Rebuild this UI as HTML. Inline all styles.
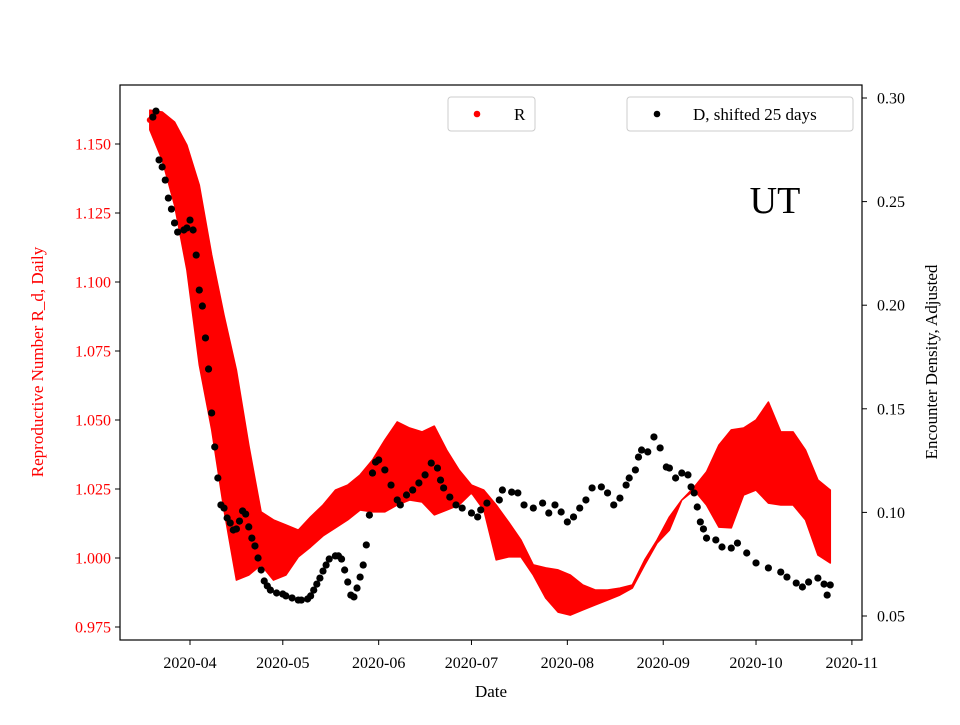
<!DOCTYPE html>
<html><head><meta charset="utf-8"><style>
body{margin:0;background:#fff}
svg{font-family:"Liberation Serif",serif}
</style></head><body>
<svg id="chart" width="960" height="720" viewBox="0 0 960 720">
<rect width="960" height="720" fill="#fff"/>
<g id="rband"></g>
<g id="dpts"></g>
<rect x="120" y="85" width="742" height="555" fill="none" stroke="#000" stroke-width="1.2"/>
<g id="xaxis"></g>
<g id="yleft"></g>
<g id="yright"></g>
<text x="491" y="697" font-size="17" text-anchor="middle">Date</text>
<text transform="translate(43,362) rotate(-90)" font-size="17" fill="#f00" text-anchor="middle">Reproductive Number R_d, Daily</text>
<text transform="translate(937,362) rotate(-90)" font-size="17" text-anchor="middle">Encounter Density, Adjusted</text>
<text x="775" y="213" font-size="38" text-anchor="middle">UT</text>
<g>
<rect x="448" y="97" width="87" height="34" rx="3" fill="#fff" stroke="#ccc"/>
<circle cx="477" cy="114" r="3.3" fill="#f00"/>
<text x="514" y="120" font-size="17">R</text>
</g>
<g>
<rect x="627" y="97" width="226" height="34" rx="3" fill="#fff" stroke="#ccc"/>
<circle cx="657" cy="114" r="3.3" fill="#000"/>
<text x="693" y="120" font-size="17">D, shifted 25 days</text>
</g>
</svg>
<script>
// days since 2020-03-01
const rDays=[18,22,26,30,34,38,42,46,50,54,58,62,66,70,74,78,82,86,90,94,98,102,106,110,114,118,122,126,130,134,138,142,146,150,154,158,162,166,170,174,178,182,186,190,194,198,202,206,210,214,218,222,226,230,234,238];
const rHi=[1.1623,1.1616,1.158,1.1496,1.1351,1.1098,1.088,1.0681,1.0409,1.0167,1.0138,1.012,1.0101,1.0149,1.0192,1.0246,1.0264,1.0301,1.0355,1.0428,1.0493,1.0471,1.0457,1.0478,1.0391,1.0319,1.0264,1.0246,1.0192,1.013,1.0065,0.9975,0.9964,0.9957,0.9938,0.9902,0.9884,0.9884,0.9891,0.9902,0.9993,1.0065,1.0149,1.021,1.0257,1.0312,1.0409,1.0464,1.0471,1.05,1.0565,1.0457,1.0457,1.0391,1.0283,1.0246];
const rLo=[1.1551,1.1442,1.1279,1.1043,1.0699,1.0464,1.0174,0.992,0.9938,0.9975,0.992,0.9938,1.0004,1.004,1.008,1.0109,1.0138,1.0174,1.0167,1.0167,1.0192,1.021,1.0203,1.0156,1.0174,1.0192,1.0236,1.0174,0.9993,1.0004,1.0004,0.9938,0.9855,0.9804,0.9793,0.9812,0.983,0.9848,0.9866,0.9891,0.9975,1.0054,1.0101,1.021,1.0246,1.0192,1.0112,1.0109,1.0228,1.0246,1.0199,1.0192,1.0192,1.0138,1.0011,0.9982];
const dDays=[19,20,21,22,23,24,25,26,27,29,30,31,32,33,34,35,36,37,38,39,40,41,42,43,44,45,46,47,48,49,50,51,52,53,54,55,56,57,59,61,62,64,66,67,69,70,71,72,73,74,75,76,78,79,80,81,82,83,84,85,86,87,88,89,90,91,92,94,96,98,99,101,103,105,107,109,111,112,113,115,117,119,122,124,125,127,131,132,135,137,139,142,145,147,149,151,153,155,157,159,161,164,166,168,170,172,173,175,176,177,179,181,183,185,186,188,190,192,193,194,195,196,197,198,201,203,206,208,211,214,218,222,224,227,229,231,234,236,237,238];
const dVals=[0.2908,0.2937,0.2701,0.2667,0.2604,0.2517,0.2464,0.2397,0.2353,0.2363,0.2373,0.2411,0.2363,0.2242,0.2073,0.1996,0.1842,0.1692,0.148,0.1316,0.1166,0.1036,0.1021,0.0973,0.0949,0.0915,0.092,0.0958,0.1007,0.0992,0.093,0.0876,0.0838,0.078,0.0722,0.0669,0.0645,0.0625,0.0611,0.0606,0.0597,0.0587,0.0577,0.0577,0.0582,0.0597,0.0625,0.0654,0.0683,0.0717,0.0746,0.0775,0.079,0.079,0.0775,0.0722,0.0664,0.0601,0.0592,0.0635,0.0688,0.0746,0.0843,0.0987,0.119,0.1243,0.1253,0.1205,0.1132,0.106,0.1036,0.1084,0.1108,0.1142,0.1181,0.1238,0.1214,0.1156,0.1118,0.1074,0.1036,0.1021,0.0997,0.0978,0.1012,0.1045,0.106,0.1108,0.1098,0.1094,0.1036,0.1021,0.1045,0.0997,0.1036,0.1002,0.0954,0.0978,0.1021,0.106,0.1118,0.1123,0.1094,0.1036,0.1069,0.1132,0.1166,0.1205,0.1267,0.1301,0.1292,0.1364,0.1311,0.1219,0.1214,0.1166,0.119,0.1181,0.1123,0.1094,0.1026,0.0954,0.092,0.0876,0.0867,0.0833,0.0828,0.0852,0.0804,0.0756,0.0732,0.0712,0.0688,0.0659,0.064,0.0664,0.0683,0.0654,0.0601,0.065];
const xTickDays=[31,61,92,122,153,184,214,245];
const xTickLabels=["2020-04","2020-05","2020-06","2020-07","2020-08","2020-09","2020-10","2020-11"];
const yLeftTicks=[0.975,1.0,1.025,1.05,1.075,1.1,1.125,1.15];
const yRightTicks=[0.05,0.10,0.15,0.20,0.25,0.30];

const NS="http://www.w3.org/2000/svg";
const xS=d=>190+(d-31)*3.093;
const yL=v=>558-(v-1)*2760;
const yR=v=>616-(v-0.05)*2072;
function mk(tag,attrs,parent){const e=document.createElementNS(NS,tag);for(const k in attrs)e.setAttribute(k,attrs[k]);parent.appendChild(e);return e;}
const rb=document.getElementById('rband');
let pts=[];
rDays.forEach((d,i)=>pts.push(xS(d).toFixed(1)+','+yL(rHi[i]).toFixed(1)));
for(let i=rDays.length-1;i>=0;i--)pts.push(xS(rDays[i]).toFixed(1)+','+yL(rLo[i]).toFixed(1));
const band=mk('polygon',{points:pts.join(' '),fill:'#f00',stroke:'#f00','stroke-width':1.5,'stroke-linejoin':'round'},rb);


const rp=mk('circle',{cx:xS(rDays[0]),cy:yL((rHi[0]+rLo[0])/2),r:3,fill:'#f00'},rb);


const dp=document.getElementById('dpts');
dDays.forEach((d,i)=>{
  const c=mk('circle',{cx:xS(d),cy:yR(dVals[i]),r:3.6,fill:'#000'},dp);
  
  
});
const xa=document.getElementById('xaxis');
xTickDays.forEach((d,i)=>{
  const x=xS(d);
  mk('line',{x1:x,x2:x,y1:640,y2:645,stroke:'#000'},xa);
  const t=mk('text',{x:x,y:668,'font-size':16,'text-anchor':'middle'},xa);
  t.textContent=xTickLabels[i];
  
  
});
const yl=document.getElementById('yleft');
yLeftTicks.forEach(v=>{
  const y=yL(v);
  mk('line',{x1:115,x2:120,y1:y,y2:y,stroke:'#000'},yl);
  const t=mk('text',{x:111,y:y+5.5,'font-size':16,'text-anchor':'end',fill:'#f00'},yl);
  t.textContent=v.toFixed(3);
  
  
});
const yr=document.getElementById('yright');
yRightTicks.forEach(v=>{
  const y=yR(v);
  mk('line',{x1:862,x2:867,y1:y,y2:y,stroke:'#000'},yr);
  const t=mk('text',{x:877,y:y+5.5,'font-size':16},yr);
  t.textContent=v.toFixed(2);
  
  
});
</script>
</body></html>
